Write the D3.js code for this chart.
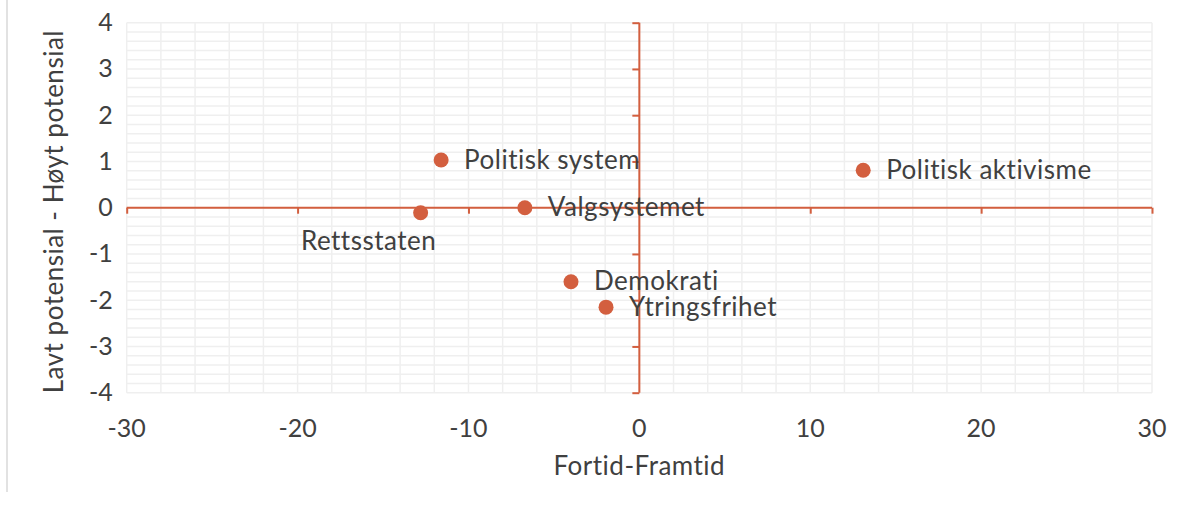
<!DOCTYPE html>
<html>
<head>
<meta charset="utf-8">
<script src="https://cdn.jsdelivr.net/npm/d3@7"></script>
<style>
  body { margin: 0; background: #fff; }
  text { font-family: Lato, "Open Sans", sans-serif; fill: #404040; }
  .label { font-size: 26px; letter-spacing: 0.5px; }
  .tick-label { font-size: 25px; }
</style>
</head>
<body>
<div id="scatter"></div>
<script>
// data
var labels = ["Politisk system", "Rettsstaten", "Valgsystemet", "Demokrati", "Ytringsfrihet", "Politisk aktivisme"];
var xValues = [-11.6, -12.8, -6.7, -4.0, -1.95, 13.1];
var yValues = [1.03, -0.11, 0.0, -1.6, -2.15, 0.81];
var xTicks = [-30, -20, -10, 0, 10, 20, 30];
var yTicks = [-4, -3, -2, -1, 0, 1, 2, 3, 4];

var svgWidth = 1187;
var svgHeight = 507;

var margin = { top: 22.7, right: 35, bottom: 114.3, left: 126.7 };
var width = svgWidth - margin.left - margin.right;
var height = svgHeight - margin.top - margin.bottom;

var accent = "#d35f3f";

var svg = d3.select("#scatter")
  .append("svg")
  .attr("width", svgWidth)
  .attr("height", svgHeight);

// faint outer frame line on the left
svg.append("line")
  .attr("x1", 7).attr("x2", 7)
  .attr("y1", 0).attr("y2", 492)
  .attr("stroke", "#d9d9d9")
  .attr("stroke-width", 1.5);

var chartGroup = svg.append("g")
  .attr("transform", `translate(${margin.left}, ${margin.top})`);

var xScale = d3.scaleLinear().domain([-30, 30]).range([0, width]);
var yScale = d3.scaleLinear().domain([-4, 4]).range([height, 0]);

// minor gridlines
var gridX = d3.range(-30, 30.001, 2);
var gridY = d3.range(-4, 4.001, 0.2);

chartGroup.append("g").selectAll("line")
  .data(gridX)
  .enter()
  .append("line")
  .attr("x1", d => xScale(d)).attr("x2", d => xScale(d))
  .attr("y1", 0).attr("y2", height)
  .attr("stroke", "#efefef")
  .attr("stroke-width", 1.5);

chartGroup.append("g").selectAll("line")
  .data(gridY)
  .enter()
  .append("line")
  .attr("x1", 0).attr("x2", width)
  .attr("y1", d => yScale(d)).attr("y2", d => yScale(d))
  .attr("stroke", "#efefef")
  .attr("stroke-width", 1.5);

// axes through the origin
var bottomAxis = d3.axisBottom(xScale).tickValues(xTicks).tickSize(6).tickFormat("");
var leftAxis = d3.axisLeft(yScale).tickValues(yTicks).tickSize(7).tickFormat("");

var xAxisG = chartGroup.append("g")
  .attr("transform", `translate(0, ${yScale(0)})`)
  .call(bottomAxis);

var yAxisG = chartGroup.append("g")
  .attr("transform", `translate(${xScale(0)}, 0)`)
  .call(leftAxis);

[xAxisG, yAxisG].forEach(function(g) {
  g.select(".domain").attr("stroke", accent).attr("stroke-width", 2);
  g.selectAll(".tick line").attr("stroke", accent).attr("stroke-width", 2);
});
xAxisG.select(".domain").attr("d", `M0,0H${width}`);
yAxisG.select(".domain").attr("d", `M0,${height}V0`);

// tick labels along plot edges
chartGroup.append("g").selectAll("text")
  .data(xTicks)
  .enter()
  .append("text")
  .attr("class", "tick-label")
  .attr("x", d => xScale(d))
  .attr("y", height + 44)
  .attr("text-anchor", "middle")
  .text(d => d);

chartGroup.append("g").selectAll("text")
  .data(yTicks)
  .enter()
  .append("text")
  .attr("class", "tick-label")
  .attr("x", -14)
  .attr("y", d => yScale(d) + 8.5)
  .attr("text-anchor", "end")
  .text(d => d);

// points
var points = labels.map(function(l, i) {
  return { label: l, x: xValues[i], y: yValues[i] };
});

chartGroup.selectAll("circle")
  .data(points)
  .enter()
  .append("circle")
  .attr("cx", d => xScale(d.x))
  .attr("cy", d => yScale(d.y))
  .attr("r", 7.5)
  .attr("fill", accent);

chartGroup.append("g").selectAll("text")
  .data(points)
  .enter()
  .append("text")
  .attr("class", "label")
  .attr("x", function(d) {
    if (d.label === "Rettsstaten") return xScale(d.x) - 52;
    return xScale(d.x) + 23;
  })
  .attr("y", function(d) {
    if (d.label === "Rettsstaten") return yScale(d.y) + 37;
    return yScale(d.y) + 8.5;
  })
  .attr("text-anchor", d => d.label === "Rettsstaten" ? "middle" : "start")
  .text(d => d.label);

// axis titles
chartGroup.append("text")
  .attr("class", "label")
  .attr("x", width / 2)
  .attr("y", height + 82)
  .attr("text-anchor", "middle")
  .text("Fortid-Framtid");

chartGroup.append("text")
  .attr("class", "label")
  .attr("transform", "rotate(-90)")
  .attr("x", -(height / 2) - 4)
  .attr("y", -64)
  .attr("text-anchor", "middle")
  .text("Lavt potensial - Høyt potensial");
</script>
</body>
</html>
